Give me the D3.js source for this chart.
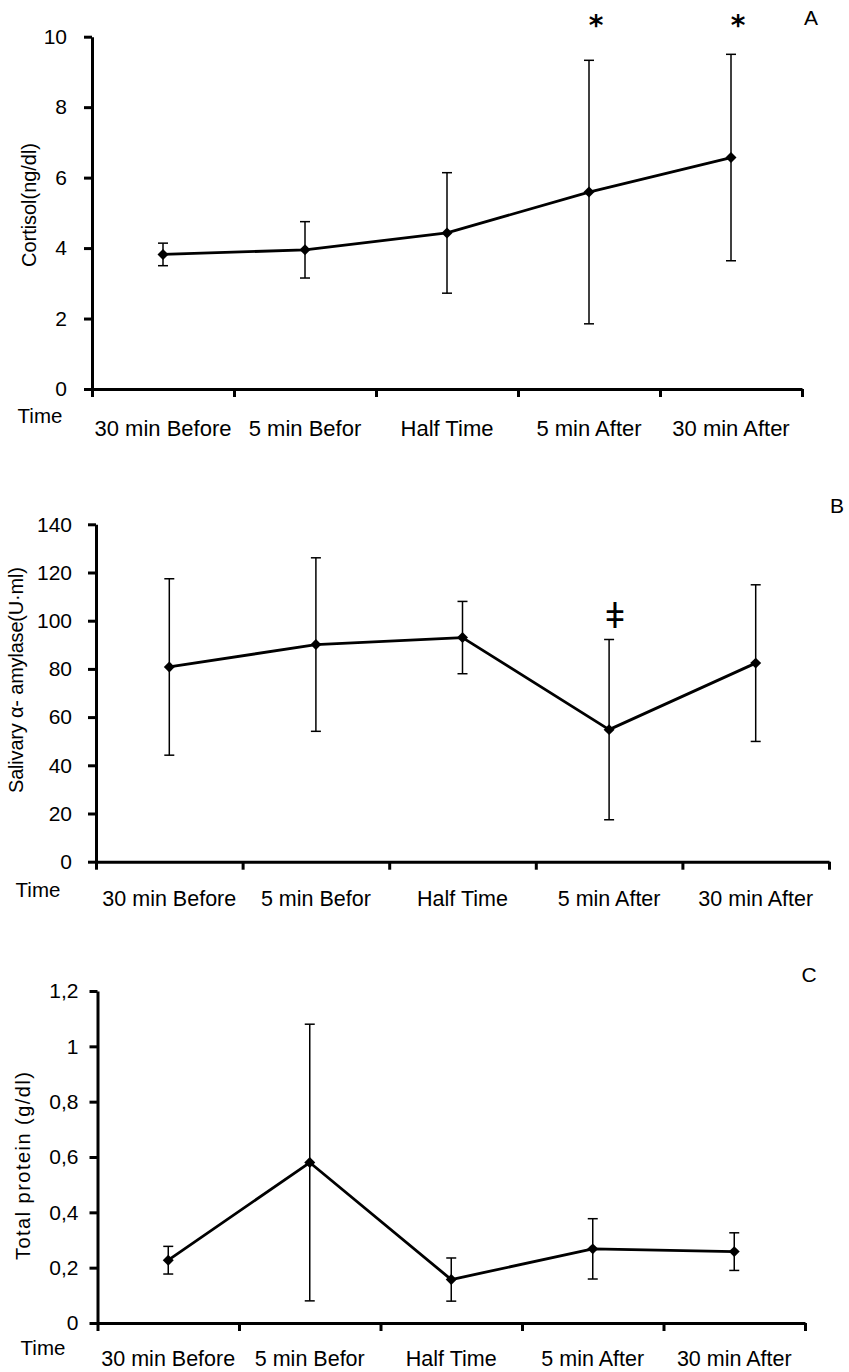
<!DOCTYPE html>
<html>
<head>
<meta charset="utf-8">
<script src="https://cdn.jsdelivr.net/npm/d3@7"></script>
<style>
  html, body { margin: 0; padding: 0; background: #fff; }
  svg { display: block; }
  text { font-family: "Liberation Sans", Arial, sans-serif; fill: #000; }
</style>
</head>
<body>
<svg id="chart" width="849" height="1372"></svg>
<script>
// ---------------- DATA ----------------
const categories = ["30 min Before", "5 min Befor", "Half Time", "5 min After", "30 min After"];

const cortisolMean = [3.82, 3.95, 4.43, 5.59, 6.57];
const cortisolSD   = [0.32, 0.80, 1.71, 3.74, 2.93];
const cortisolTicks = [0, 2, 4, 6, 8, 10];
const cortisolTickLabels = ["0", "2", "4", "6", "8", "10"];
const cortisolSig = ["", "", "", "*", "*"];

const amylaseMean = [80.8, 90.1, 93.0, 54.8, 82.4];
const amylaseSD   = [36.6, 36.0, 15.0, 37.4, 32.5];
const amylaseTicks = [0, 20, 40, 60, 80, 100, 120, 140];
const amylaseTickLabels = ["0", "20", "40", "60", "80", "100", "120", "140"];
const amylaseSig = ["", "", "", "\u01C2", ""];

const proteinMean = [0.227, 0.580, 0.157, 0.268, 0.258];
const proteinSD   = [0.050, 0.500, 0.078, 0.109, 0.068];
const proteinTicks = [0, 0.2, 0.4, 0.6, 0.8, 1.0, 1.2];
const proteinTickLabels = ["0", "0,2", "0,4", "0,6", "0,8", "1", "1,2"];
const proteinSig = ["", "", "", "", ""];

const timeLabel = "Time";

// ---------------- LAYOUT ----------------
const panels = [
  { mean: cortisolMean, sd: cortisolSD, ticks: cortisolTicks, tickLabels: cortisolTickLabels, sig: cortisolSig,
    ylabel: "Cortisol(ng/dl)", letter: "A",
    x0: 92, x1: 802, yBottom: 389, yTop: 36.7, ymax: 10,
    tickPad: 17, xLabelDy: 47, xLabelSize: 22, timeX: 40, timeDy: 34,
    ylabX: 36, ylabY: 205, ylabLen: 124,
    letterX: 811, letterY: 25,
    sigDx: 7, sigY: 35, sigFont: "DejaVu Sans", sigSize: 28, sigWeight: "bold" },
  { mean: amylaseMean, sd: amylaseSD, ticks: amylaseTicks, tickLabels: amylaseTickLabels, sig: amylaseSig,
    ylabel: "Salivary \u03B1- amylase(U\u00B7ml)", letter: "B",
    x0: 96, x1: 829, yBottom: 861.7, yTop: 524.3, ymax: 140,
    tickPad: 16, xLabelDy: 44, xLabelSize: 21.5, timeX: 38, timeDy: 35,
    ylabX: 23, ylabY: 680, ylabLen: 226,
    letterX: 837, letterY: 513,
    sigDx: 6, sigY: 628, sigFont: "Liberation Sans", sigSize: 35, sigWeight: "normal" },
  { mean: proteinMean, sd: proteinSD, ticks: proteinTicks, tickLabels: proteinTickLabels, sig: proteinSig,
    ylabel: "Total protein (g/dl)", letter: "C",
    x0: 97.5, x1: 805, yBottom: 1323, yTop: 991, ymax: 1.2,
    tickPad: 11, xLabelDy: 43, xLabelSize: 21.5, timeX: 43, timeDy: 32,
    ylabX: 30, ylabY: 1166, ylabLen: 188,
    letterX: 809, letterY: 982,
    sigDx: 6, sigY: 0, sigFont: "Liberation Sans", sigSize: 28, sigWeight: "normal" }
];

const svg = d3.select("#chart");

panels.forEach(p => {
  const g = svg.append("g");
  const y = d3.scaleLinear().domain([0, p.ymax]).range([p.yBottom, p.yTop]);
  const xb = d3.scaleLinear().domain([0, categories.length]).range([p.x0, p.x1]);
  const xc = i => xb(i + 0.5);

  // Y axis
  const yAxis = d3.axisLeft(y)
    .tickValues(p.ticks)
    .tickFormat((d, i) => p.tickLabels[i])
    .tickSize(8)
    .tickSizeOuter(0)
    .tickPadding(p.tickPad);
  const ya = g.append("g").attr("transform", `translate(${p.x0},0)`).call(yAxis);
  ya.select(".domain").attr("stroke", "#000").attr("stroke-width", 3);
  ya.selectAll(".tick line").attr("stroke", "#000").attr("stroke-width", 3);
  ya.selectAll(".tick text").attr("font-size", 21).attr("font-family", "Liberation Sans, Arial, sans-serif").attr("fill", "#000");

  // X axis (boundary ticks)
  const xAxis = d3.axisBottom(xb)
    .tickValues(d3.range(categories.length + 1))
    .tickFormat("")
    .tickSize(8)
    .tickSizeOuter(0);
  const xa = g.append("g").attr("transform", `translate(0,${p.yBottom})`).call(xAxis);
  xa.select(".domain").attr("stroke", "#000").attr("stroke-width", 3);
  xa.selectAll(".tick line").attr("stroke", "#000").attr("stroke-width", 3);

  // Category labels
  g.selectAll("text.cat").data(categories).enter().append("text")
    .attr("class", "cat")
    .attr("x", (d, i) => xc(i))
    .attr("y", p.yBottom + p.xLabelDy)
    .attr("text-anchor", "middle")
    .attr("font-size", p.xLabelSize)
    .text(d => d);

  // "Time"
  g.append("text")
    .attr("x", p.timeX).attr("y", p.yBottom + p.timeDy)
    .attr("text-anchor", "middle").attr("font-size", 20.5)
    .text(timeLabel);

  // Y label
  g.append("text")
    .attr("transform", `translate(${p.ylabX},${p.ylabY}) rotate(-90)`)
    .attr("text-anchor", "middle")
    .attr("font-size", 20)
    .attr("textLength", p.ylabLen)
    .attr("lengthAdjust", "spacing")
    .text(p.ylabel);

  // Panel letter
  g.append("text")
    .attr("x", p.letterX).attr("y", p.letterY)
    .attr("text-anchor", "middle").attr("font-size", 21)
    .text(p.letter);

  // Error bars
  const capW = 5;
  const eb = g.selectAll("g.eb").data(p.mean).enter().append("g").attr("class", "eb")
    .attr("stroke", "#000").attr("stroke-width", 1.5);
  eb.append("line")
    .attr("x1", (d, i) => xc(i)).attr("x2", (d, i) => xc(i))
    .attr("y1", (d, i) => y(d + p.sd[i])).attr("y2", (d, i) => y(d - p.sd[i]));
  eb.append("line")
    .attr("x1", (d, i) => xc(i) - capW).attr("x2", (d, i) => xc(i) + capW)
    .attr("y1", (d, i) => y(d + p.sd[i])).attr("y2", (d, i) => y(d + p.sd[i]));
  eb.append("line")
    .attr("x1", (d, i) => xc(i) - capW).attr("x2", (d, i) => xc(i) + capW)
    .attr("y1", (d, i) => y(d - p.sd[i])).attr("y2", (d, i) => y(d - p.sd[i]));

  // Line
  const line = d3.line().x((d, i) => xc(i)).y(d => y(d));
  g.append("path").datum(p.mean)
    .attr("d", line)
    .attr("fill", "none").attr("stroke", "#000").attr("stroke-width", 2.8)
    .attr("stroke-linejoin", "round");

  // Markers (diamonds)
  const sym = d3.symbol().type(d3.symbolSquare).size(60);
  g.selectAll("path.mk").data(p.mean).enter().append("path")
    .attr("class", "mk")
    .attr("d", sym)
    .attr("transform", (d, i) => `translate(${xc(i)},${y(d)}) rotate(45)`)
    .attr("fill", "#000");

  // Significance markers
  g.selectAll("text.sig").data(p.sig.map((s, i) => ({ s, i })).filter(d => d.s !== "")).enter().append("text")
    .attr("class", "sig")
    .attr("x", d => xc(d.i) + p.sigDx)
    .attr("y", p.sigY)
    .attr("text-anchor", "middle")
    .attr("font-size", p.sigSize)
    .attr("font-weight", p.sigWeight)
    .style("font-family", p.sigFont)
    .text(d => d.s);
});
</script>
</body>
</html>
